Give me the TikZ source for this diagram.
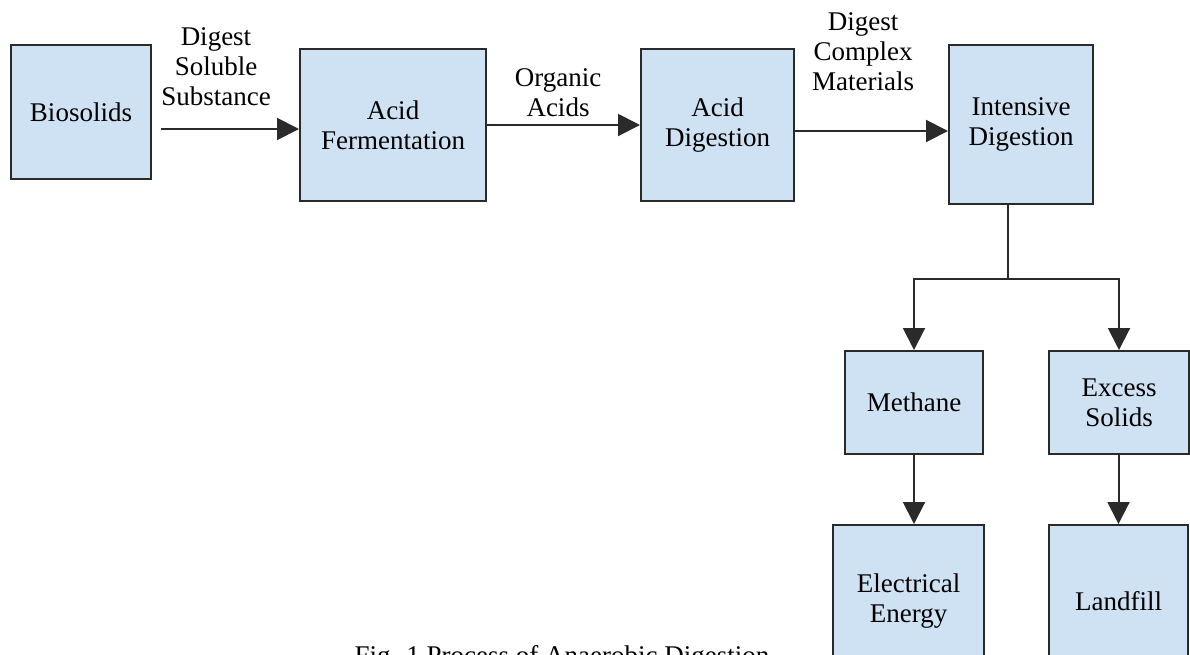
\documentclass[tikz,border=0pt]{standalone}
\usepackage{fontspec}
\setmainfont{Liberation Serif}
\usetikzlibrary{arrows.meta}
\definecolor{boxfill}{HTML}{CFE2F3}
\definecolor{boxline}{HTML}{2A2A2A}
\tikzset{
  box/.style={draw=boxline, line width=2pt, fill=boxfill, rectangle, inner sep=0pt, align=center,
    font=\fontsize{27}{30}\selectfont},
  lbl/.style={inner sep=0pt, align=center, font=\fontsize{27}{30}\selectfont},
  arr/.style={draw=boxline, line width=2pt, -{Triangle[length=22pt,width=22pt]}},
  conn/.style={draw=boxline, line width=2pt}
}
\begin{document}
\begin{tikzpicture}[x=1pt,y=-1pt]
\useasboundingbox (0,0) rectangle (1190,654);
\clip (0,0) rectangle (1190,654);
\fill[white] (0,0) rectangle (1190,654);
% boxes
\node[box, minimum width=140pt, minimum height=134pt] (bio)  at (81,112) {Biosolids};
\node[box, minimum width=186pt, minimum height=152pt] (ferm) at (393,125) {Acid\\Fermentation};
\node[box, minimum width=153pt, minimum height=152pt] (dig)  at (717.5,125) {Acid\\Digestion};
\node[box, minimum width=144pt, minimum height=159pt] (int)  at (1021,124.5) {Intensive\\Digestion};
\node[box, minimum width=138pt, minimum height=103pt] (meth) at (914,402.5) {Methane};
\node[box, minimum width=140pt, minimum height=103pt] (exc)  at (1119,402.5) {Excess\\Solids};
\node[box, minimum width=151pt, minimum height=152pt] (elec) at (908.5,601) {Electrical\\Energy};
\node[box, minimum width=139pt, minimum height=152pt] (land) at (1118.5,601) {Landfill};
% labels
\node[lbl] (l1) at (216,67) {Digest\\Soluble\\Substance};
\node[lbl] (l2) at (558,92.5) {Organic\\Acids};
\node[lbl] (l3) at (863,52) {Digest\\Complex\\Materials};
% connectors
\coordinate (a1) at (161,129);
\draw[arr] (a1) -- (a1 -| ferm.west);
\draw[arr] (ferm.east) -- (ferm.east -| dig.west);
\draw[arr] ([yshift=-6pt]dig.east) -- ([yshift=-6pt]dig.east -| int.west);
\coordinate (j) at (1008,279);
\draw[conn] (int.south -| j) -- (j);
\draw[arr] (j) -| (meth.north);
\draw[arr] (j) -| (exc.north);
\draw[arr] (meth.south) -- (meth.south |- elec.north);
\draw[arr] (exc.south -| land.north) -- (land.north);
% caption
\node[lbl, anchor=base] (cap) at (562,664) {Fig. 1 Process of Anaerobic Digestion};
\end{tikzpicture}
\end{document}
